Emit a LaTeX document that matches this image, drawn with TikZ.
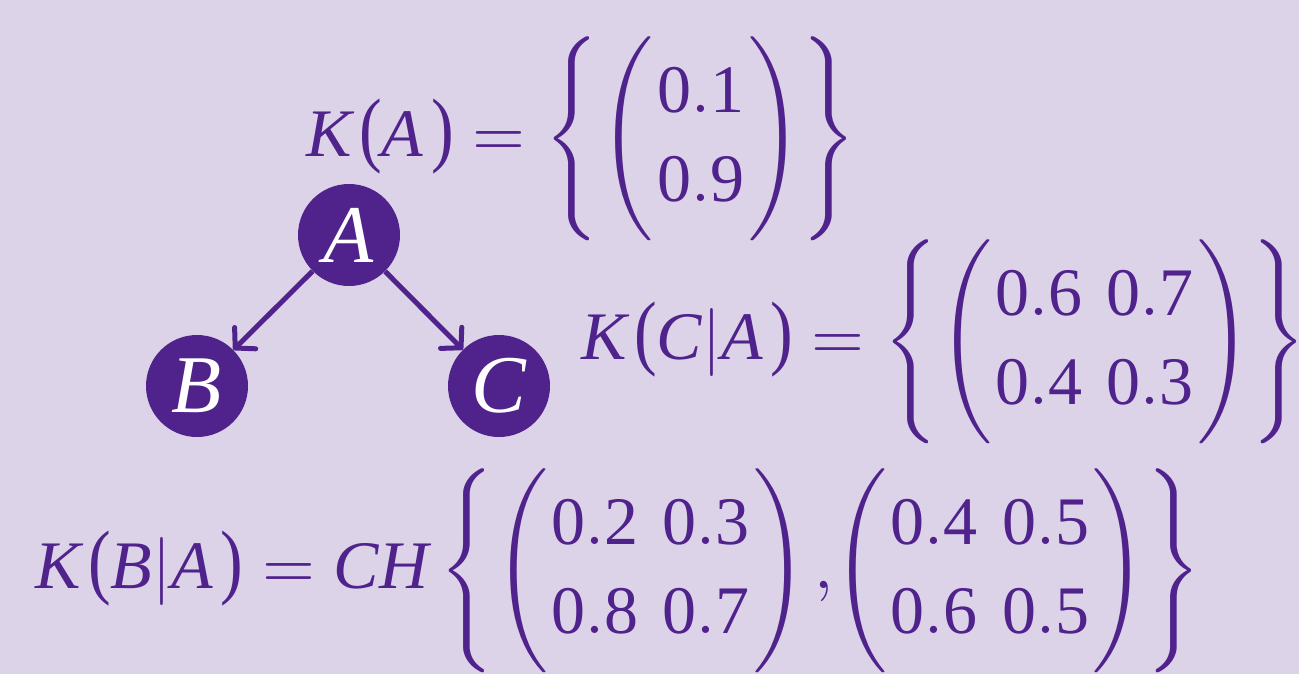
\documentclass[tikz,border=0pt]{standalone}
\usepackage{amsmath}
\usepackage{graphicx}
\usepackage{fontspec}
\setmainfont{Liberation Serif}
\usetikzlibrary{arrows.meta}
\definecolor{bgcol}{HTML}{DCD3E9}
\definecolor{pur}{HTML}{50228C}
\newcommand{\vi}[1]{\mathit{#1}}
\newcommand{\nm}[1]{\mathrm{#1}}
\newcommand{\lp}{\mkern2mu\scalebox{1}[1.22]{(}}
\newcommand{\rp}{\mkern2mu\scalebox{1}[1.22]{)}}
\newcommand{\mat}[1]{\Biggl(\begin{array}{@{\hspace{0.5pt}}c@{\hspace{3.6pt}}c@{\hspace{0.5pt}}}#1\end{array}\Biggr)}
\newcommand{\vect}[1]{\Biggl(\begin{array}{@{\hspace{0.7pt}}c@{\hspace{0.5pt}}}#1\end{array}\Biggr)}
\newcommand{\fml}[1]{\scalebox{3.4}{\fontsize{10}{13.2}\selectfont$#1$}}
\tikzset{
  vnode/.style={circle,fill=pur,minimum size=51pt,inner sep=0pt,text=white,font=\fontsize{41}{48}\selectfont},
  formula/.style={anchor=west,inner sep=0pt,text=pur},
  arr/.style={draw=pur,line width=2.5pt,-{Straight Barb[length=7pt,width=15pt,round]}}
}
\begin{document}
\begin{tikzpicture}[x=0.5pt,y=-0.5pt]
\useasboundingbox (0,0) rectangle (1299,674);
\clip (0,0) rectangle (1299,674);
\fill[bgcol] (0,0) rectangle (1299,674);
\node[vnode] (A) at (349,235) {\itshape A};
\node[vnode] (B) at (197,386) {\itshape B};
\node[vnode] (C) at (499,386) {\itshape C};
\draw[arr] (A) -- (B);
\draw[arr] (A) -- (C);
\node[formula] (KA) at (306,139) {\fml{\vi{K}\lp\vi{A}\rp=\Biggl\{\vect{\nm{0.1}\\\nm{0.9}}\Biggr\}}};
\node[formula] (KCA) at (581,342) {\fml{\vi{K}\lp\vi{C}\vert\vi{A}\rp=\Biggl\{\mat{\nm{0.6}&\nm{0.7}\\\nm{0.4}&\nm{0.3}}\Biggr\}}};
\node[formula] (KBA) at (35,571) {\fml{\vi{K}\lp\vi{B}\vert\vi{A}\rp=\vi{CH}\,\Biggl\{\mat{\nm{0.2}&\nm{0.3}\\\nm{0.8}&\nm{0.7}}\mkern2mu{,}\mat{\nm{0.4}&\nm{0.5}\\\nm{0.6}&\nm{0.5}}\Biggr\}}};
\end{tikzpicture}
\end{document}
